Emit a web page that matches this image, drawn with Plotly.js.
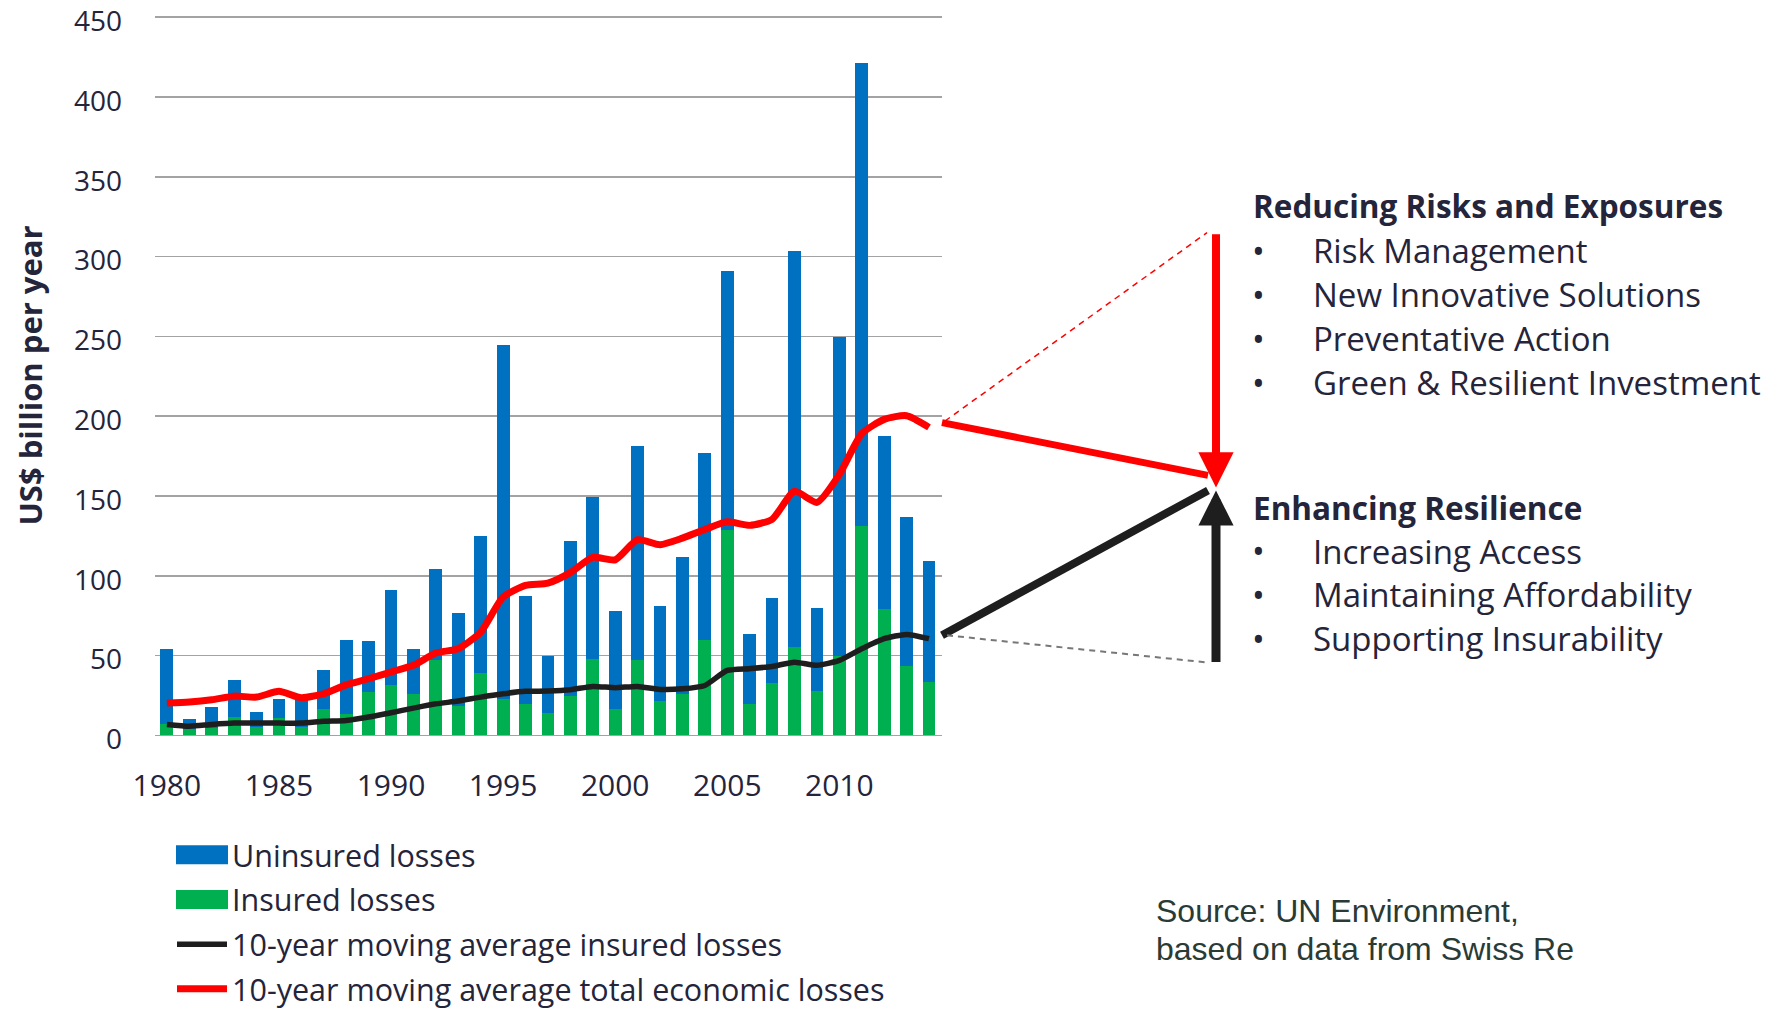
<!DOCTYPE html>
<html>
<head>
<meta charset="utf-8">
<script src="https://cdn.plot.ly/plotly-3.0.1.min.js"></script>
<style>
  html, body { margin: 0; padding: 0; background: #ffffff; }
  #chart { width: 1779px; height: 1010px; }
</style>
</head>
<body>
<div id="chart"></div>
<script>
// ---- Data (US$ billion per year) ----
const years = [1980,1981,1982,1983,1984,1985,1986,1987,1988,1989,
               1990,1991,1992,1993,1994,1995,1996,1997,1998,1999,
               2000,2001,2002,2003,2004,2005,2006,2007,2008,2009,
               2010,2011,2012,2013,2014];

const insuredLosses = [7,4,4.5,11.5,5.2,11,5,16.7,13.2,27.2,
                       31.3,26.1,47.4,18.5,39.3,23,19.6,14.2,25,47.7,
                       16.4,47.3,21.3,26,60,129,19.6,32.7,55.4,28,
                       50,131,79,43.8,33.5];

const uninsuredLosses = [47,6.5,13.5,23.5,9.4,12,17,24.3,46.3,31.8,
                         59.7,27.9,56.6,58.5,85.7,221.6,67.7,35.6,97,101.8,
                         61.6,134.1,59.7,85.5,117,162,44.2,53.3,248,51.6,
                         199.8,290.6,108.5,93.2,75.7];

const avgInsured = [6.9,5.8,6.9,7.7,7.7,7.7,7.7,8.8,9.4,11.5,
                    14.2,17.1,19.8,21.5,24,26.1,27.6,27.8,28.6,30.7,
                    29.9,30.7,28.8,29.2,31.3,40.7,41.8,43.2,45.9,43.9,
                    47,54.3,60.6,63.3,60.6];

const avgTotal = [20.3,20.9,22.3,24.6,24,27.6,23.6,26.1,31.7,35.5,
                  39.7,43.9,51.6,54.3,64.7,86.7,94,95.4,102,111.5,
                  110,122.6,119.5,123.6,129,133.8,131.6,135.4,153,146,
                  163.5,189,198,200.3,193];

const xTickYears = [1980,1985,1990,1995,2000,2005,2010];
const yTicks = [0,50,100,150,200,250,300,350,400,450];

// Illustrative projection values (same units as the y axis)
const projTotalStart = 196, projTotalEnd = 162.9, projTotalHigh = 315, projTotalArrowTip = 155.4;
const projInsStart = 62.7, projInsEnd = 153.5, projInsLow = 45.7;

const reducingHeading = 'Reducing Risks and Exposures';
const reducingItems = ['Risk Management','New Innovative Solutions','Preventative Action','Green & Resilient Investment'];
const enhancingHeading = 'Enhancing Resilience';
const enhancingItems = ['Increasing Access','Maintaining Affordability','Supporting Insurability'];
const sourceLines = ['Source: UN Environment,', 'based on data from Swiss Re'];

// ---- Layout geometry ----
const W = 1779, H = 1010;
const M = {l: 155, r: 837, t: 14, b: 273, autoexpand: false};
const plotW = W - M.l - M.r, plotH = H - M.t - M.b;
const yMin = -1, yMax = 452;
const pxX = p => (p - M.l) / plotW;            // pixel x -> paper x
const pxY = p => (H - M.b - p) / plotH;        // pixel y -> paper y
const vY = v => (v - yMin) / (yMax - yMin);    // data y -> paper y
const vPix = v => (H - M.b) - vY(v) * plotH;   // data y -> pixel y

const BLUE = '#0070C0', GREEN = '#00B050', RED = '#FF0000', BLACK = '#1e1e1e';
const TXT = '#24243a';
const FONT = '"Open Sans", "Noto Sans", sans-serif';

const traces = [
  {type: 'bar', name: 'Insured losses', x: years, y: insuredLosses,
   marker: {color: GREEN, line: {width: 0}}, legendrank: 2, legendgroup: 'b'},
  {type: 'bar', name: 'Uninsured losses', x: years, y: uninsuredLosses,
   marker: {color: BLUE, line: {width: 0}}, legendrank: 1, legendgroup: 'a'},
  {type: 'scatter', mode: 'lines', name: '10-year moving average insured losses',
   x: years, y: avgInsured, line: {color: BLACK, width: 5.5, shape: 'spline', smoothing: 0.6},
   legendrank: 3, legendgroup: 'c'},
  {type: 'scatter', mode: 'lines', name: '10-year moving average total economic losses',
   x: years, y: avgTotal, line: {color: RED, width: 7, shape: 'spline', smoothing: 0.6},
   legendrank: 4, legendgroup: 'd'}
];

const arrowX = pxX(1216);
const lineEndX = pxX(1208);

const shapes = [
  {type: 'line', xref: 'paper', yref: 'paper', x0: 1.0, y0: vY(projTotalStart), x1: lineEndX, y1: vY(projTotalEnd),
   line: {color: RED, width: 7}},
  {type: 'line', xref: 'paper', yref: 'paper', x0: pxX(945), y0: vY(projTotalStart + 1), x1: pxX(1207), y1: vY(projTotalHigh),
   line: {color: RED, width: 1.5, dash: '6px,5px'}},
  {type: 'line', xref: 'paper', yref: 'paper', x0: 1.0, y0: vY(projInsStart), x1: lineEndX, y1: vY(projInsEnd),
   line: {color: BLACK, width: 8}},
  {type: 'line', xref: 'paper', yref: 'paper', x0: pxX(947), y0: vY(projInsStart), x1: pxX(1207), y1: vY(projInsLow),
   line: {color: '#777777', width: 2, dash: '6px,5px'}}
];

const annotations = [
  {xref: 'paper', yref: 'paper', x: arrowX, y: vY(projTotalArrowTip), text: '', showarrow: true,
   axref: 'pixel', ayref: 'pixel', ax: 0, ay: -(vPix(projTotalArrowTip) - vPix(projTotalHigh)),
   arrowcolor: RED, arrowwidth: 8, arrowhead: 2, arrowsize: 0.88, standoff: 0},
  {xref: 'paper', yref: 'paper', x: arrowX, y: vY(projInsEnd), text: '', showarrow: true,
   axref: 'pixel', ayref: 'pixel', ax: 0, ay: (vPix(projInsLow - 0.6) - vPix(projInsEnd)),
   arrowcolor: BLACK, arrowwidth: 9, arrowhead: 2, arrowsize: 0.78, standoff: 0}
];

function addBlock(heading, items, headY, firstY, step) {
  annotations.push({xref: 'paper', yref: 'paper', x: pxX(1251), y: pxY(headY), xanchor: 'left', yanchor: 'middle',
    text: '<b>' + heading + '</b>', showarrow: false, font: {family: FONT, size: 31.5, color: TXT}});
  items.forEach((t, i) => {
    const yy = pxY(firstY + i * step);
    annotations.push({xref: 'paper', yref: 'paper', x: pxX(1258), y: yy, xanchor: 'center', yanchor: 'middle',
      text: '•', showarrow: false, font: {family: FONT, size: 34, color: TXT}});
    annotations.push({xref: 'paper', yref: 'paper', x: pxX(1311), y: yy, xanchor: 'left', yanchor: 'middle',
      text: t.replace('&', '&amp;'), showarrow: false, font: {family: FONT, size: 33, color: TXT}});
  });
}
addBlock(reducingHeading, reducingItems, 206, 251, 43.9);
addBlock(enhancingHeading, enhancingItems, 507, 551, 43.9);

sourceLines.forEach((t, i) => {
  annotations.push({xref: 'paper', yref: 'paper', x: pxX(1154), y: pxY(911 + i * 37.5), xanchor: 'left', yanchor: 'middle',
    align: 'left', text: t, showarrow: false,
    font: {family: '"Liberation Sans", Arial, sans-serif', size: 32, color: '#2a3b35'}});
});

const layout = {
  width: W, height: H,
  margin: M,
  paper_bgcolor: '#ffffff', plot_bgcolor: '#ffffff',
  barmode: 'stack', bargap: 0.43,
  showlegend: true,
  legend: {
    x: pxX(172), y: pxY(828.5), xanchor: 'left', yanchor: 'top',
    orientation: 'v', traceorder: 'grouped', tracegroupgap: 2,
    itemwidth: 50, font: {family: FONT, size: 30.5, color: TXT},
    bgcolor: 'rgba(0,0,0,0)'
  },
  xaxis: {
    range: [1979.47, 2014.58],
    tickmode: 'array', tickvals: xTickYears, ticktext: xTickYears.map(String),
    showgrid: false, zeroline: false, showline: false, ticks: '',
    ticklabelstandoff: 28, ticklabeloverflow: 'allow',
    tickfont: {family: FONT, size: 30, color: TXT}
  },
  yaxis: {
    range: [yMin, yMax],
    tickmode: 'array', tickvals: yTicks, ticktext: yTicks.map(String),
    showgrid: true, gridcolor: '#a3a3a3', gridwidth: 1.6,
    zeroline: false, showline: false, ticks: '',
    ticklabelstandoff: 32, ticklabelshift: 4, ticklabeloverflow: 'allow',
    tickfont: {family: FONT, size: 28, color: TXT},
    title: {text: '<b>US$ billion per year</b>', standoff: 22,
            font: {family: FONT, size: 31, color: TXT}}
  },
  shapes: shapes,
  annotations: annotations
};

Plotly.newPlot('chart', traces, layout, {displayModeBar: false, staticPlot: true}).then(gd => {
  // wider rectangular legend swatches for the bar series
  gd.querySelectorAll('.legend .legendpoints path').forEach(p => {
    p.setAttribute('d', 'M-26,9.5H26V-9.5H-26Z');
  });
});
</script>
</body>
</html>
